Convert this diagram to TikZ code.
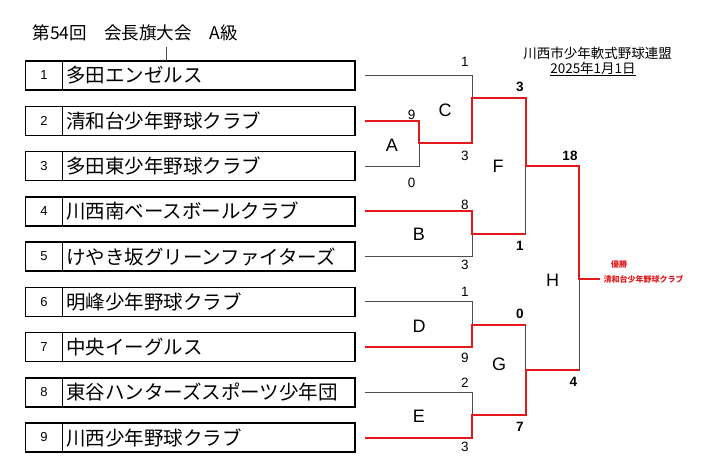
\documentclass[tikz,border=0pt]{standalone}
\usepackage{fontspec}
\setmainfont{Liberation Sans}
\newfontfamily\jp{Noto Sans CJK JP}
\usepackage{xcolor}
\usetikzlibrary{positioning}
\definecolor{winred}{HTML}{E3191C}
\definecolor{linegray}{HTML}{4D4D4D}

\begin{document}
\begin{tikzpicture}[
x=1pt, y=-1pt,
num/.style={rectangle, draw=black, line width=1.5pt, outer sep=0pt, inner sep=0pt, minimum width=36.6pt, minimum height=29pt, font=\fontsize{13}{15}\selectfont},
team/.style={rectangle, draw=black, line width=1.5pt, outer sep=0pt, inner xsep=4pt, minimum width=292.7pt, minimum height=29pt, text width=284.7pt, align=left, font=\jp\fontsize{19.5}{23}\selectfont},
tie/.style={draw=linegray, line width=0.9pt},
win/.style={draw=winred, line width=2pt},
match/.style={font=\fontsize{18}{20}\selectfont},
score/.style={font=\fontsize{13.5}{15}\selectfont},
bscore/.style={font=\bfseries\fontsize{13.5}{15}\selectfont}
]
\useasboundingbox (0,0) rectangle (716,467);

% Title
\node[anchor=west, font=\jp\fontsize{17.5}{20}\selectfont] (title) at (29,33) {第54回　会長旗大会　A級};
\node[font=\jp\fontsize{13.5}{16}\selectfont] (league) at (597.5,53) {川西市少年軟式野球連盟};
\node[font=\jp\fontsize{13.5}{16}\selectfont] (date) at (593,69) {\underline{2025年1月1日}};

% Teams
\node[num] (n1) at (44,75.5) {1};
\node[team, right=0pt of n1] (t1) {多田エンゼルス};
\node[num] (n2) at (44,120.75) {2};
\node[team, right=0pt of n2] (t2) {清和台少年野球クラブ};
\node[num] (n3) at (44,166) {3};
\node[team, right=0pt of n3] (t3) {多田東少年野球クラブ};
\node[num] (n4) at (44,211.25) {4};
\node[team, right=0pt of n4] (t4) {川西南ベースボールクラブ};
\node[num] (n5) at (44,256.5) {5};
\node[team, right=0pt of n5] (t5) {けやき坂グリーンファイターズ};
\node[num] (n6) at (44,301.75) {6};
\node[team, right=0pt of n6] (t6) {明峰少年野球クラブ};
\node[num] (n7) at (44,347) {7};
\node[team, right=0pt of n7] (t7) {中央イーグルス};
\node[num] (n8) at (44,392.25) {8};
\node[team, right=0pt of n8] (t8) {東谷ハンターズスポーツ少年団};
\node[num] (n9) at (44,437.5) {9};
\node[team, right=0pt of n9] (t9) {川西少年野球クラブ};

\coordinate (tick) at (166.7,47);
\draw[tie] (tick) -- (tick |- t1.north);

% Line starts
\coordinate (s1) at ([xshift=10pt]t1.east);
\coordinate (s2) at ([xshift=10pt]t2.east);
\coordinate (s3) at ([xshift=10pt]t3.east);
\coordinate (s4) at ([xshift=10pt]t4.east);
\coordinate (s5) at ([xshift=10pt]t5.east);
\coordinate (s6) at ([xshift=10pt]t6.east);
\coordinate (s7) at ([xshift=10pt]t7.east);
\coordinate (s8) at ([xshift=10pt]t8.east);
\coordinate (s9) at ([xshift=10pt]t9.east);

% Match points
\coordinate (A) at (419,143.3);
\coordinate (A2) at (419,166);
\coordinate (C) at (472,98.3);
\coordinate (C2) at (472,143.3);
\coordinate (B) at (472,233.7);
\coordinate (B2) at (472,256.5);
\coordinate (D) at (472,325);
\coordinate (D2) at (472,347);
\coordinate (E) at (472,415);
\coordinate (E2) at (472,437.5);
\coordinate (F) at (525.7,166);
\coordinate (F1) at (525.7,98.3);
\coordinate (F2) at (525.7,233.7);
\coordinate (G) at (525.7,370);
\coordinate (G1) at (525.7,325);
\coordinate (G2) at (525.7,415);
\coordinate (H) at (579,279.3);
\coordinate (H1) at (579,166);
\coordinate (H2) at (579,370);
\coordinate (W) at (600,279.3);

% Bracket
\draw[tie] (s1) -| (C2);
\draw[tie] (s2) -| (A2) -- (s3);
\draw[tie] (A) -- (C2);
\draw[tie] (s4) -| (B2) -- (s5);
\draw[tie] (C) -- (F1) -- (F2) -- (B);
\draw[tie] (s6) -| (D2) -- (s7);
\draw[tie] (s8) -| (E2) -- (s9);
\draw[tie] (D) -- (G1) -- (G2) -- (E);
\draw[tie] (F) -- (H1) -- (H2) -- (G);

% Winners
\draw[win] (s2) -| (A) -- (C2) -- (C) -- (F1) -- (F) -- (H1) -- (H) -- (W);
\draw[win] (s4) -| (B) -- (F2);
\draw[win] (s7) -| (D) -- (G1);
\draw[win] (s9) -| (E) -- (G2) -- (G) -- (H2);

% Match labels
\node[match] (mA) at (392,145) {A};
\node[match] (mB) at (419,234) {B};
\node[match] (mC) at (445,110) {C};
\node[match] (mD) at (419,326) {D};
\node[match] (mE) at (419,416) {E};
\node[match] (mF) at (498,166) {F};
\node[match] (mG) at (499,364) {G};
\node[match] (mH) at (552.7,280) {H};

% Scores
\node[score] (sc1) at (465,61.7) {1};
\node[score] (sc2) at (411.7,115) {9};
\node[score] (sc3) at (411.7,182.7) {0};
\node[score] (sc4) at (465,156) {3};
\node[bscore] (sc5) at (520,87.3) {3};
\node[bscore] (sc6) at (570,156) {18};
\node[score] (sc7) at (465,205) {8};
\node[bscore] (sc8) at (520,246) {1};
\node[score] (sc9) at (465,265) {3};
\node[score] (sc10) at (465,291.7) {1};
\node[bscore] (sc11) at (520,314) {0};
\node[score] (sc12) at (465,358) {9};
\node[score] (sc13) at (465,382.7) {2};
\node[bscore] (sc14) at (573.3,381.7) {4};
\node[bscore] (sc15) at (520,427) {7};
\node[score] (sc16) at (465,446.7) {3};

% Champion
\node[text=winred, font=\jp\bfseries\fontsize{8}{9}\selectfont] (champ) at (619,264) {優勝};
\node[text=winred, font=\jp\bfseries\fontsize{8}{9}\selectfont, right=0pt of W] (winner) {清和台少年野球クラブ};

\end{tikzpicture}
\end{document}
